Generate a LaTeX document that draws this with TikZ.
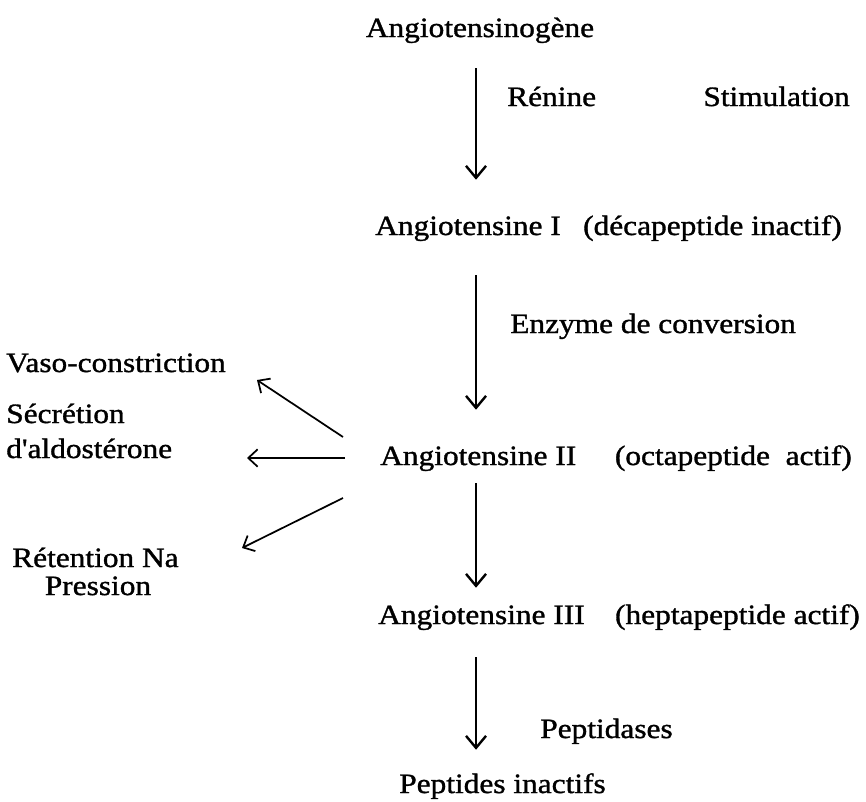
\documentclass[tikz,border=0pt]{standalone}
\usepackage{fontspec}
\setmainfont{Liberation Serif}[FakeStretch=1.12, FakeBold=1.2, Ligatures=TeXOff]
\usetikzlibrary{arrows.meta}

\begin{document}
\begin{tikzpicture}[
  x=0.75pt, y=-0.75pt,
  lbl/.style  = {font=\fontsize{21}{25}\selectfont, inner sep=0pt,
                 text height=15pt, text depth=4.5pt, anchor=base west},
  arr/.style  = {-{Straight Barb[length=9pt,width=15pt]}, line width=1.8pt},
  sarr/.style = {-{Straight Barb[length=7pt,width=13pt]}, line width=1.3pt},
]
\useasboundingbox (0,0) rectangle (866,801);

%% ── CASCADE ─────────────────────────────────────────────────────────────
\node[lbl, anchor=base] (agen)  at (480,37)  {Angiotensinogène};
\node[lbl]              (ang1)  at (375,235) {Angiotensine I};
\node[lbl, anchor=base east] (ang1i) at (842,235) {(décapeptide inactif)};
\node[lbl]              (ang2)  at (380,465) {Angiotensine II};
\node[lbl, anchor=base east] (ang2i) at (852,465) {(octapeptide~ actif)};
\node[lbl]              (ang3)  at (378,624) {Angiotensine III};
\node[lbl, anchor=base east] (ang3i) at (860,624) {(heptapeptide actif)};
\node[lbl]              (pepi)  at (399,793) {Peptides inactifs};

%% enzymes beside the arrows
\node[lbl]                   (ren)  at (507,106) {Rénine};
\node[lbl, anchor=base east] (stim) at (850,106) {Stimulation};
\node[lbl]                   (eca)  at (510,333) {Enzyme de conversion};
\node[lbl]                   (ptd)  at (540,738) {Peptidases};

%% ── EFFECTS ─────────────────────────────────────────────────────────────
\node[lbl]              (vaso) at (6,372) {Vaso-constriction};
\node[lbl]              (secr) at (6,423) {Sécrétion};
\node[lbl]              (aldo) at (6,458) {d'aldostérone};
\node[lbl]              (ret)  at (12,567) {Rétention Na};
\node[lbl, anchor=base] (pres) at (98,595) {Pression};

\coordinate (axis)     at (476,0);
\coordinate (vasoTip)  at (257,380);
\coordinate (aldoTip)  at (247,458);
\coordinate (retTip)   at (242,548);

%% ── ARROWS ──────────────────────────────────────────────────────────────
\draw[arr, shorten <=18.75pt, shorten >=26.25pt] (agen.south -| axis) -- (ang1.north -| axis);
\draw[arr, shorten <=25.5pt,  shorten >=26.25pt] (ang1.south -| axis) -- (ang2.north -| axis);
\draw[arr, shorten <=9pt,     shorten >=12pt]    (ang2.south -| axis) -- (ang3.north -| axis);
\draw[arr, shorten <=20.25pt, shorten >=17.25pt] (ang3.south -| axis) -- (pepi.north -| axis);

\draw[sarr] ([shift={(-37,-21)}]ang2.west) -- (vasoTip);
\draw[sarr] ([shift={(-35,0)}]ang2.west)   -- (aldoTip);
\draw[sarr] ([shift={(-37,40)}]ang2.west)  -- (retTip);

\end{tikzpicture}
\end{document}
